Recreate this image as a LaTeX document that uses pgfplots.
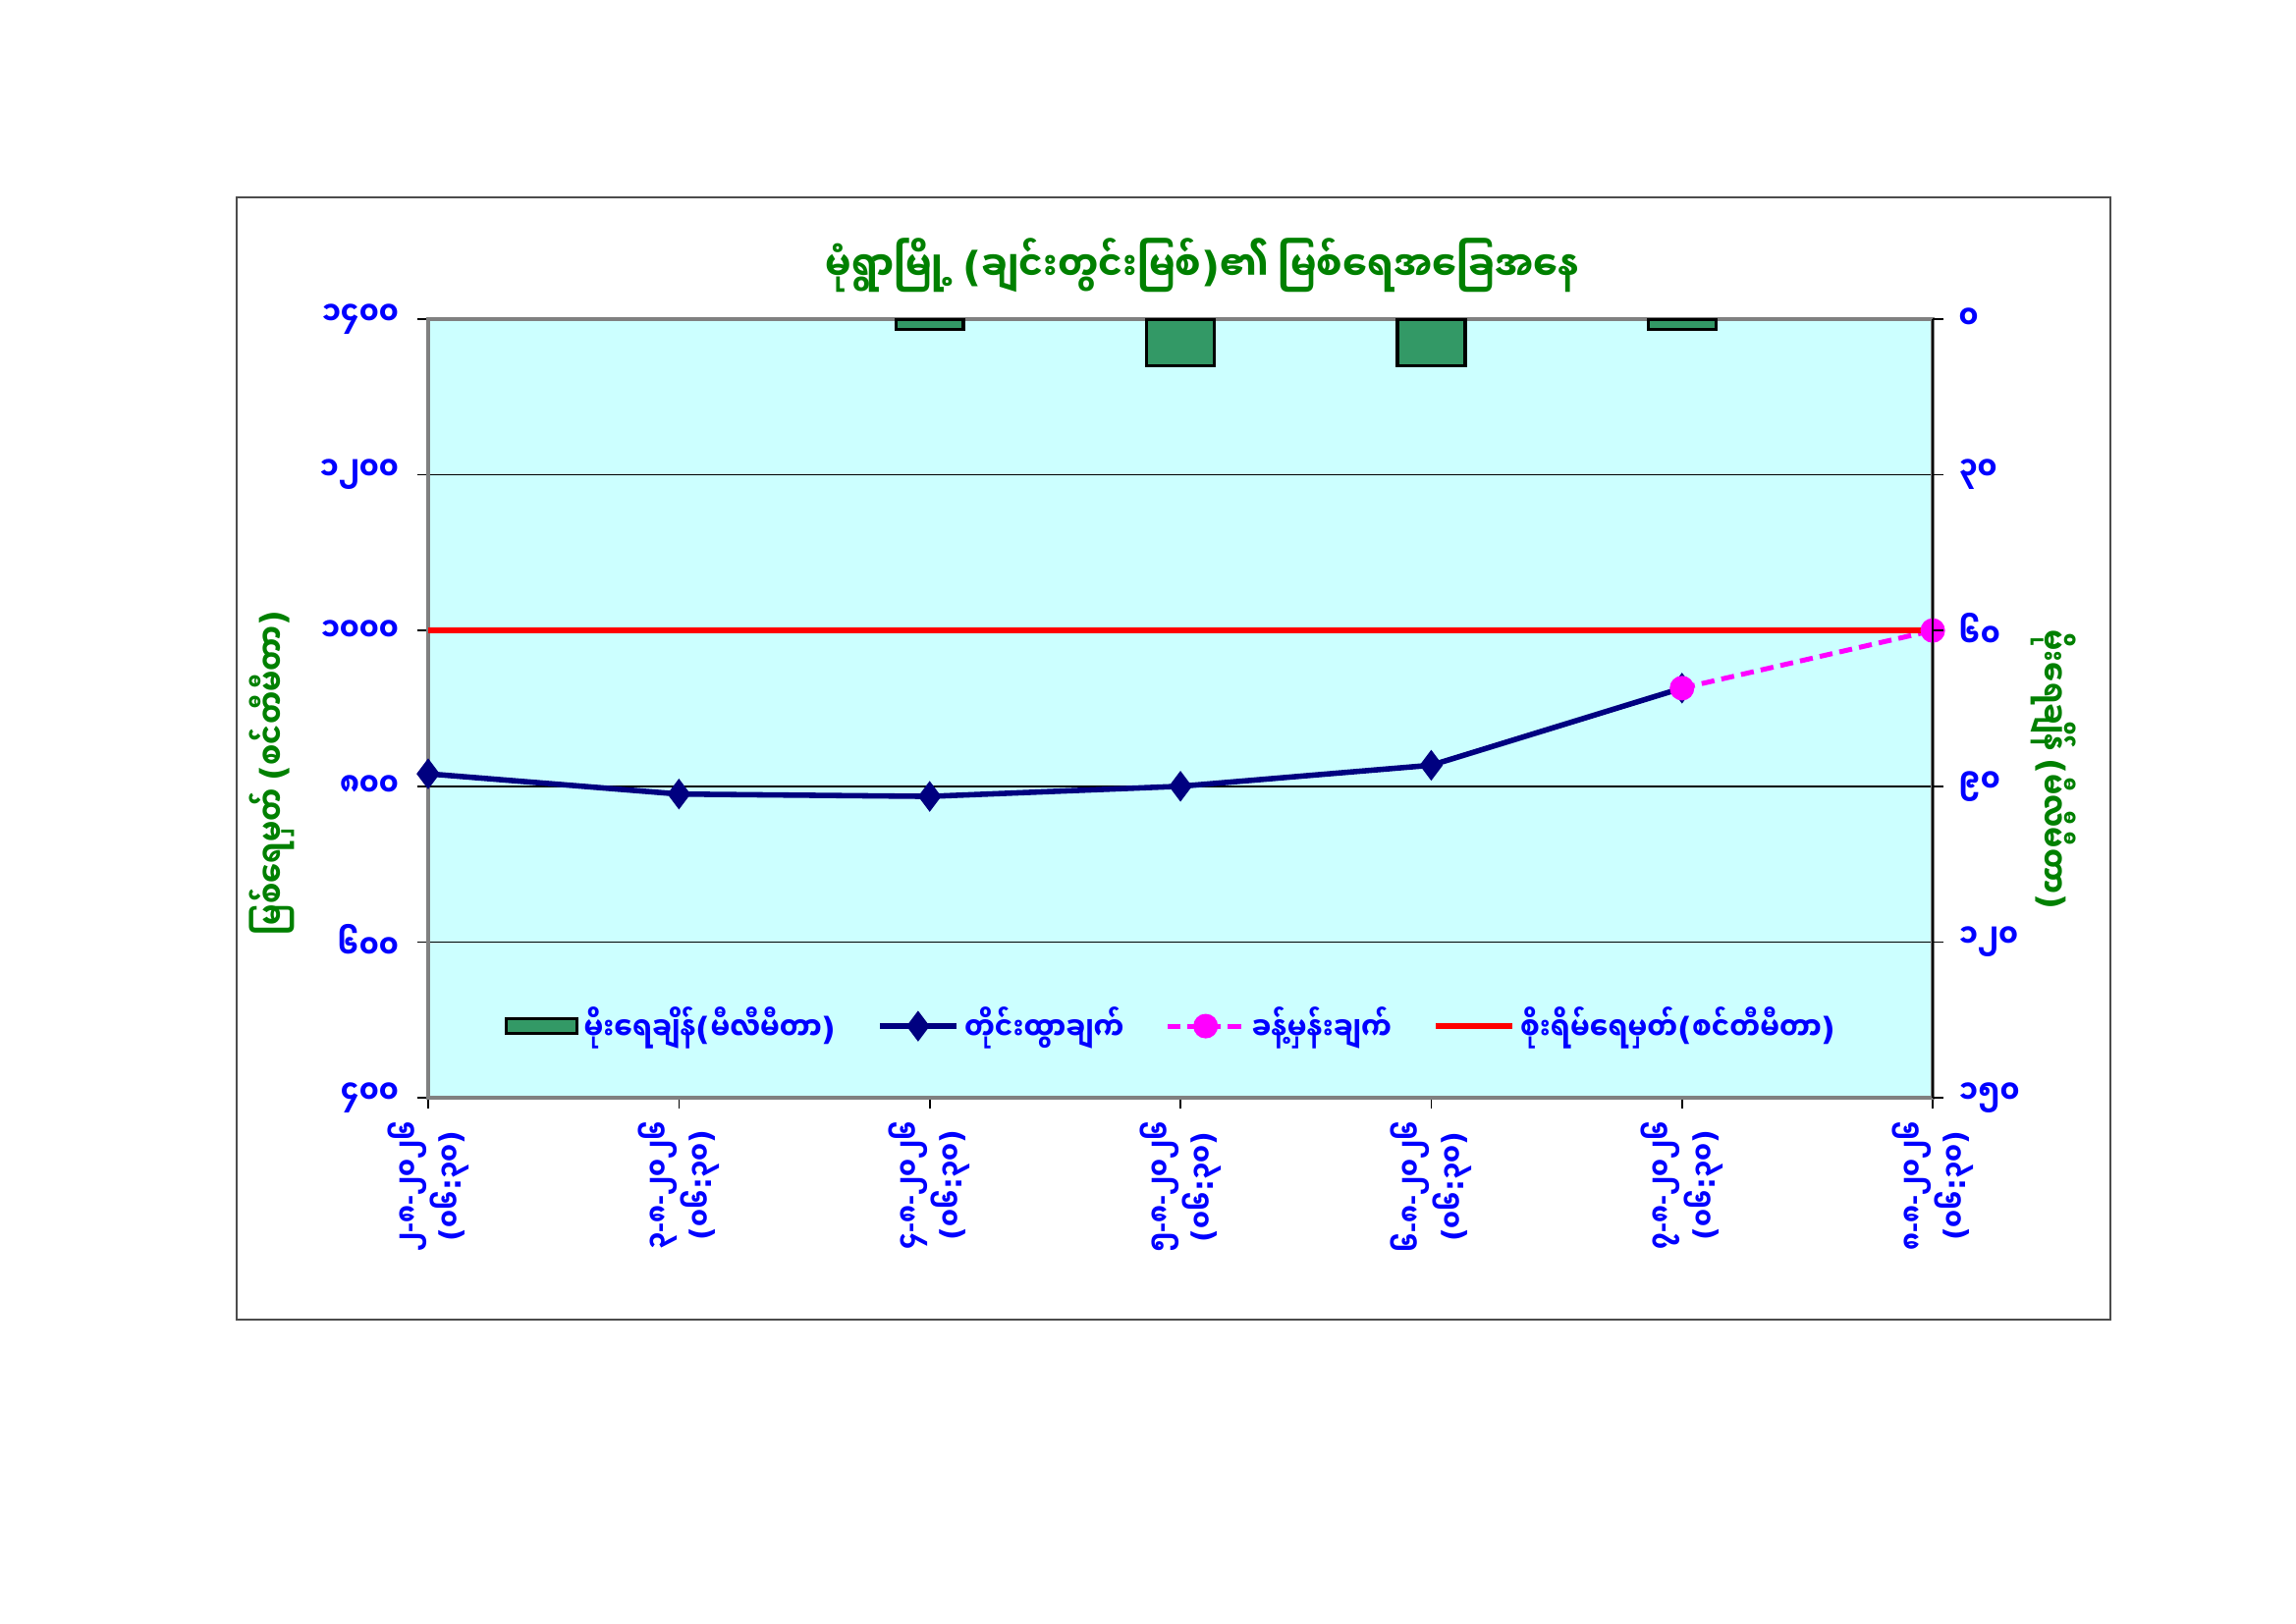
\documentclass[border=0pt]{standalone}
\usepackage{fontspec}
\setmainfont[Script=Myanmar]{Noto Sans Myanmar UI}
\newfontfamily\mmc[Script=Myanmar, FakeStretch=0.86]{Noto Sans Myanmar UI}
\newfontfamily\mmt[Script=Myanmar, FakeStretch=0.89]{Noto Sans Myanmar UI}
\newfontfamily\latf{DejaVu Sans}
\newfontfamily\hyf{Liberation Sans}
\newcommand\LP{{\latf(}}
\newcommand\RP{{\latf)}}
\newcommand\HY{{\hyf-}}
\newcommand\CL{{\latf:}}
\usepackage{pgfplots}
\pgfplotsset{compat=1.18}
\definecolor{bgc}{HTML}{CCFFFF}
\definecolor{barg}{HTML}{339966}
\definecolor{navyc}{HTML}{000080}
\definecolor{tickb}{HTML}{0000FF}
\definecolor{titg}{HTML}{008000}
\definecolor{magc}{HTML}{FF00FF}
\definecolor{redc}{HTML}{FF0000}
\definecolor{framec}{HTML}{808080}
\pgfplotsset{
  mylinelegend/.style={legend image code/.code={\draw[mark repeat=2,mark phase=2,##1] plot coordinates {(0pt,0pt)(14pt,0pt)(28pt,0pt)};}},
  myplainlegend/.style={legend image code/.code={\draw[##1] (0pt,0pt) -- (28pt,0pt);}},
}
\newcommand\dl[1]{#1\HY၈\HY၂၀၂၆\\\LP၀၆\CL၃၀\RP}

\begin{document}
\begin{tikzpicture}
\path[use as bounding box] (0,0) rectangle (841.9pt,595.3pt);
\draw[black!70, line width=0.7pt] (86.8pt,111.3pt) rectangle (773.9pt,522.9pt);
\node[font=\mmt\bfseries\fontsize{15}{18}\selectfont, text=titg] at (441pt,498pt) {မုံရွာမြို့ \LP ချင်းတွင်းမြစ်\RP ၏ မြစ်ရေအခြေအနေ};
\node[font=\mmc\bfseries\fontsize{12.5}{15}\selectfont, text=titg, rotate=90] at (99.8pt,312pt) {မြစ်ရေမှတ် \LP စင်တီမီတာ\RP};
\node[font=\mmc\bfseries\fontsize{12.5}{15}\selectfont, text=titg, rotate=-90] at (753pt,313pt) {မိုးရေချိန် \LP မီလီမီတာ\RP};

\begin{axis}[
  at={(157pt,192.7pt)}, anchor=south west,
  scale only axis, width=551.7pt, height=285.6pt,
  xmin=0, xmax=6, ymin=400, ymax=1400,
  axis background/.style={fill=bgc},
  axis line style={framec, line width=1.3pt},
  xtick={0,...,6}, xtick pos=bottom, ytick pos=left,
  ytick={400,600,...,1400},
  yticklabels={၄၀၀,၆၀၀,၈၀၀,၁၀၀၀,၁၂၀၀,၁၄၀၀},
  xticklabels={{\dl{၂}},{\dl{၃}},{\dl{၄}},{\dl{၅}},{\dl{၆}},{\dl{၇}},{\dl{၈}}},
  tick align=outside, major tick length=4pt,
  tick style={black, line width=0.6pt},
  ymajorgrids, grid style={black, line width=0.6pt},
  yticklabel style={text=tickb, font=\mmc\bfseries\fontsize{12}{14}\selectfont, xshift=-3.3pt},
  xticklabel style={rotate=90, anchor=east, align=center, text=tickb, font=\mmc\bfseries\fontsize{10.8}{15.5}\selectfont, xshift=-1pt},
  legend columns=4,
  legend style={at={(0.495,0.092)}, anchor=center, draw=none, fill=none,
    font=\mmc\bfseries\fontsize{11.6}{14}\selectfont, text=tickb,
    /tikz/every even column/.append style={column sep=13pt}},
  clip=false,
]
\addlegendimage{legend image code/.code={\draw[fill=barg, draw=black, line width=1.2pt] (0pt,-2.7pt) rectangle (26pt,2.7pt);}}
\addlegendentry{မိုးရေချိန်\LP မီလီမီတာ\RP}
\addplot[navyc, line width=2pt, mark=diamond*, mark size=4pt, mark options={solid}, mylinelegend]
  coordinates {(0,816)(1,790)(2,787)(3,800)(4,827)(5,926)};
\addlegendentry{တိုင်းထွာချက်}
\addplot[magc, line width=1.8pt, dash pattern=on 4.8pt off 2.6pt, mark=*, mark size=3.6pt, mark options={solid}, mylinelegend]
  coordinates {(5,926)(6,1000)};
\addlegendentry{ခန့်မှန်းချက်}
\addplot[redc, line width=2.2pt, myplainlegend]
  coordinates {(0,1000)(6,1000)};
\addlegendentry{စိုးရိမ်ရေမှတ်\LP စင်တီမီတာ\RP}
\end{axis}

\begin{axis}[
  at={(157pt,192.7pt)}, anchor=south west,
  scale only axis, width=551.7pt, height=285.6pt,
  xmin=0, xmax=6, ymin=0, ymax=150, y dir=reverse,
  axis x line=none, axis y line*=right,
  axis line style={black, line width=0.8pt},
  ytick={0,30,...,150},
  yticklabels={၀,၃၀,၆၀,၉၀,၁၂၀,၁၅၀},
  tick align=outside, major tick length=4pt,
  tick style={black, line width=0.6pt},
  yticklabel style={text=tickb, font=\mmc\bfseries\fontsize{12}{14}\selectfont, xshift=2pt},
  ybar, bar width=24.8pt,
]
\addplot[fill=barg, draw=black, line width=1.2pt]
  coordinates {(2,2)(3,9)(4,9)(5,2)};
\end{axis}
\end{tikzpicture}
\end{document}
